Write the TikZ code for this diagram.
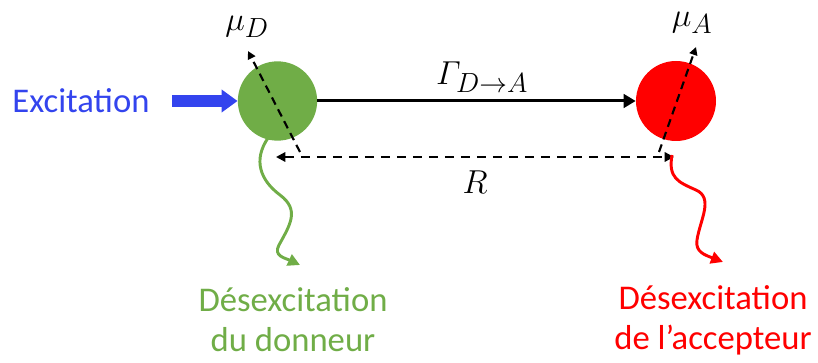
\documentclass[tikz,border=0pt]{standalone}
\usepackage{amsmath}
\usepackage{fontspec}
\setmainfont{Carlito}
\usetikzlibrary{arrows.meta}
\definecolor{exblue}{RGB}{51,68,238}
\definecolor{dgreen}{RGB}{112,173,71}
\definecolor{ared}{RGB}{255,0,0}
\tikzset{
  lbl/.style={font=\fontsize{26}{30}\selectfont, align=center, inner sep=0pt},
  mathlbl/.style={font=\fontsize{24.88}{28}\selectfont, inner sep=0pt},
  dipole/.style={black, line width=1.6pt, dash pattern=on 6pt off 4pt, -{Triangle[length=6pt,width=6pt]}},
  wave/.style={line width=2.2pt, -{Triangle[length=9pt,width=9pt]}},
}
\begin{document}
\begin{tikzpicture}[x=0.75pt,y=-0.75pt]
\useasboundingbox (0,0) rectangle (818,363);
% molecules
\node[circle, fill=dgreen, minimum size=59.5pt, inner sep=0pt] (D) at (277.5,101) {};
\node[circle, fill=ared, minimum size=60pt, inner sep=0pt] (A) at (676,101) {};
% excitation
\node[lbl, text=exblue, anchor=center] (exc) at (81,101) {Excitation};
\coordinate (bs) at (172,101);
\draw[exblue, line width=9pt, -{Triangle[length=12pt,width=16.5pt]}] (bs) -- (D.west);
% transfer
\draw[line width=2.25pt, -{Triangle[length=9pt,width=10pt]}] (D.east) -- (A.west);
\node[mathlbl] (G) at (482,77) {$\varGamma_{D\to A}$};
% distance
\coordinate (rl) at (276,157);
\coordinate (rr) at (674,157);
\draw[line width=1.6pt, dash pattern=on 7pt off 5pt, {Triangle[length=7pt,width=7pt]}-{Triangle[length=7pt,width=7pt]}] (rl) -- (rr);
\node[mathlbl] (R) at (475,182) {$R$};
% dipoles
\coordinate (d1) at (300,152);
\coordinate (d2) at (248,51);
\draw[dipole] (d1) -- (d2);
\node[mathlbl] (muD) at (247,27) {$\mu_D$};
\coordinate (a1) at (659,152);
\coordinate (a2) at (696,47);
\draw[dipole] (a1) -- (a2);
\node[mathlbl] (muA) at (692,23) {$\mu_A$};
% de-excitation waves
\coordinate (g0) at (268,138);
\coordinate (g1) at (300,265);
\draw[wave, dgreen] (g0) .. controls (253,160) and (260,180) .. (280,195)
  .. controls (300,210) and (290,225) .. (279,245) .. controls (273,256) and (285,258) .. (g1);
\coordinate (r0) at (672,155);
\coordinate (r1) at (723,262);
\draw[wave, ared] (r0) .. controls (668,178) and (678,182) .. (696,190)
  .. controls (714,198) and (700,220) .. (697,240) .. controls (695,252) and (705,255) .. (r1);
% labels
\node[lbl, text=dgreen] (tD) at (293,320) {Désexcitation\\du donneur};
\node[lbl, text=ared] (tA) at (713,320) {Désexcitation\\de l’accepteur};
\end{tikzpicture}
\end{document}
